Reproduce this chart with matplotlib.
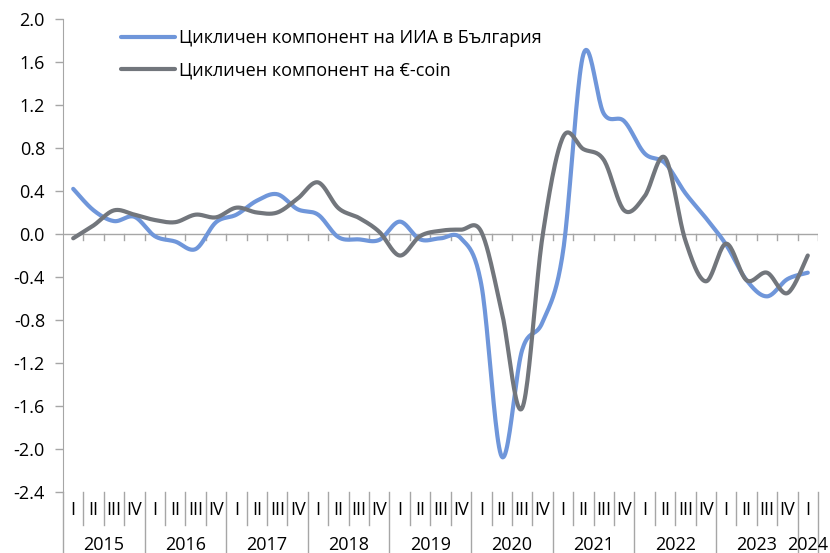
import numpy as np
import matplotlib
matplotlib.use("Agg")
import matplotlib.pyplot as plt
import matplotlib.transforms as mtransforms

plt.rcParams['font.family'] = ['Open Sans', 'DejaVu Sans']

years = ['2015', '2016', '2017', '2018', '2019', '2020', '2021', '2022', '2023', '2024']
quarters = ['I', 'II', 'III', 'IV']
n_quarters = 37  # 2015 Q1 .. 2024 Q1

# cyclical component, Bulgaria GDP (quarterly)
bg_cycle = [0.42, 0.22, 0.12, 0.16, -0.02, -0.07, -0.14, 0.11, 0.18, 0.31,
            0.37, 0.23, 0.18, -0.03, -0.05, -0.055, 0.115, -0.05, -0.04, -0.04,
            -0.47, -2.07, -1.08, -0.82, -0.17, 1.67, 1.12, 1.05, 0.75, 0.66,
            0.38, 0.15, -0.10, -0.43, -0.58, -0.42, -0.36]
# cyclical component, €-coin
ecoin_cycle = [-0.04, 0.08, 0.22, 0.18, 0.13, 0.11, 0.18, 0.155, 0.245, 0.20,
               0.20, 0.33, 0.48, 0.24, 0.15, 0.02, -0.20, -0.02, 0.03, 0.04,
               0.02, -0.72, -1.62, -0.02, 0.90, 0.79, 0.69, 0.22, 0.35, 0.71,
               -0.06, -0.44, -0.09, -0.43, -0.36, -0.55, -0.20]

labels = ['Цикличен компонент на ИИА в България', 'Цикличен компонент на €-coin']
colors = ['#6f96da', '#72767c']


def excel_smooth(x, y, steps=24):
    # Bezier smoothing similar to Excel's "smoothed line"
    x = np.asarray(x, float)
    y = np.asarray(y, float)
    px = np.concatenate([[x[0]], x, [x[-1]]])
    py = np.concatenate([[y[0]], y, [y[-1]]])
    t = np.linspace(0, 1, steps)[:, None]
    out_x, out_y = [], []
    for i in range(len(x) - 1):
        p0 = np.array([px[i + 1], py[i + 1]])
        p3 = np.array([px[i + 2], py[i + 2]])
        c1 = p0 + (p3 - np.array([px[i], py[i]])) / 6
        c2 = p3 - (np.array([px[i + 3], py[i + 3]]) - p0) / 6
        pts = ((1 - t) ** 3) * p0 + 3 * ((1 - t) ** 2) * t * c1 + 3 * (1 - t) * t ** 2 * c2 + t ** 3 * p3
        out_x.append(pts[:, 0])
        out_y.append(pts[:, 1])
    return np.concatenate(out_x), np.concatenate(out_y)


fig = plt.figure(figsize=(8.3, 5.53), dpi=100)
ax = fig.add_axes([63 / 830, 61 / 553, 755 / 830, 473 / 553])

xpos = np.arange(n_quarters) + 0.5
ax.axhline(0, color='#a6a6a6', lw=1, zorder=1)
for k in range(1, n_quarters + 1):
    ax.plot([k, k], [0, -0.055], color='#a6a6a6', lw=1, zorder=1)

for vals, lab, col in zip([bg_cycle, ecoin_cycle], labels, colors):
    sx, sy = excel_smooth(xpos, vals)
    ax.plot(sx, sy, color=col, lw=3, label=lab, solid_capstyle='round', zorder=3)

yt = np.round(np.arange(-2.4, 2.01, 0.4), 1)
ax.set_xlim(0, n_quarters)
ax.set_ylim(-2.4, 2.0)
ax.set_yticks(yt)
ax.set_yticklabels([f'{v:.1f}' if v != 0 else '0.0' for v in yt])
ax.set_xticks([])
ax.tick_params(axis='y', length=6, width=1, color='#a6a6a6', labelsize=13, pad=7)
for s in ['top', 'right', 'bottom']:
    ax.spines[s].set_visible(False)
ax.spines['left'].set_color('#a6a6a6')

# category axis: quarter labels, year labels and separators
trans = mtransforms.blended_transform_factory(ax.transData, ax.transAxes)
for k in range(n_quarters + 1):
    full = (k % 4 == 0) or k == n_quarters
    y_end = -0.13 if full else -0.07
    ax.plot([k, k], [0, y_end], color='#a6a6a6', lw=1, transform=trans, clip_on=False)
for k in range(n_quarters):
    ax.text(k + 0.5, -0.038, quarters[k % 4], transform=trans, ha='center', va='center', fontsize=13)
for j, yr in enumerate(years):
    xc = 4 * j + 2 if j < len(years) - 1 else 36.5
    ax.text(xc, -0.112, yr, transform=trans, ha='center', va='center', fontsize=13)

ax.legend(loc='upper left', bbox_to_anchor=(121 / 830, 1 - 29 / 553), bbox_transform=fig.transFigure,
          frameon=False, fontsize=13, handlelength=3.0, handletextpad=0.22, labelspacing=0.8,
          borderpad=0, borderaxespad=0)

fig.savefig('out.png', dpi=100)
